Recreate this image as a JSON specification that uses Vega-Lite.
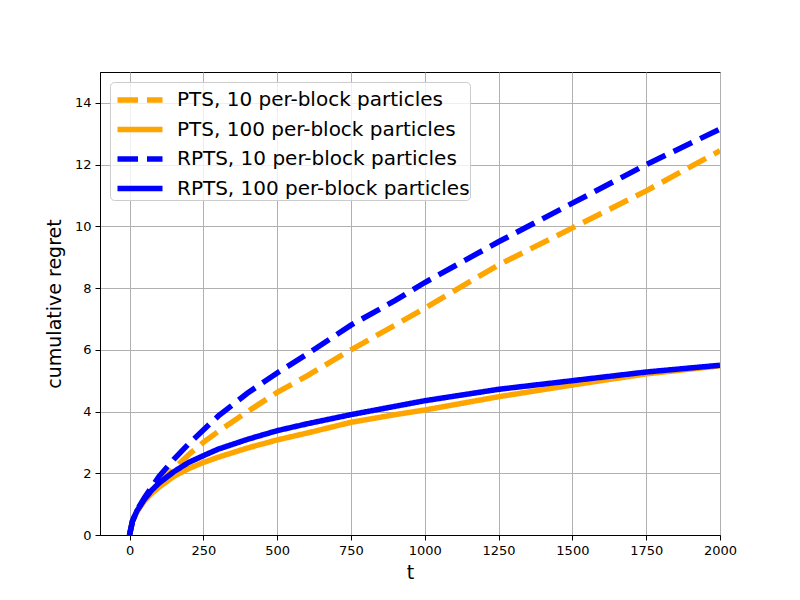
{
  "$schema": "https://vega.github.io/schema/vega-lite/v6.json",
  "width": 620,
  "height": 463,
  "autosize": "none",
  "padding": {"left": 100, "top": 72, "right": 80, "bottom": 65},
  "background": "white",
  "config": {
    "font": "DejaVu Sans",
    "view": {"stroke": "black", "strokeWidth": 1}
  },
  "datasets": {
    "curves": [
      {"t": 0, "r": 0, "s": "PTS, 10 per-block particles"},
      {"t": 10, "r": 0.45, "s": "PTS, 10 per-block particles"},
      {"t": 25, "r": 0.78, "s": "PTS, 10 per-block particles"},
      {"t": 50, "r": 1.15, "s": "PTS, 10 per-block particles"},
      {"t": 75, "r": 1.4, "s": "PTS, 10 per-block particles"},
      {"t": 100, "r": 1.65, "s": "PTS, 10 per-block particles"},
      {"t": 150, "r": 2.15, "s": "PTS, 10 per-block particles"},
      {"t": 200, "r": 2.6, "s": "PTS, 10 per-block particles"},
      {"t": 250, "r": 3.0, "s": "PTS, 10 per-block particles"},
      {"t": 300, "r": 3.35, "s": "PTS, 10 per-block particles"},
      {"t": 400, "r": 4.0, "s": "PTS, 10 per-block particles"},
      {"t": 500, "r": 4.62, "s": "PTS, 10 per-block particles"},
      {"t": 600, "r": 5.15, "s": "PTS, 10 per-block particles"},
      {"t": 750, "r": 6.0, "s": "PTS, 10 per-block particles"},
      {"t": 900, "r": 6.8, "s": "PTS, 10 per-block particles"},
      {"t": 1000, "r": 7.35, "s": "PTS, 10 per-block particles"},
      {"t": 1250, "r": 8.75, "s": "PTS, 10 per-block particles"},
      {"t": 1500, "r": 9.95, "s": "PTS, 10 per-block particles"},
      {"t": 1750, "r": 11.15, "s": "PTS, 10 per-block particles"},
      {"t": 2000, "r": 12.45, "s": "PTS, 10 per-block particles"},

      {"t": 0, "r": 0, "s": "PTS, 100 per-block particles"},
      {"t": 10, "r": 0.45, "s": "PTS, 100 per-block particles"},
      {"t": 25, "r": 0.75, "s": "PTS, 100 per-block particles"},
      {"t": 50, "r": 1.1, "s": "PTS, 100 per-block particles"},
      {"t": 75, "r": 1.35, "s": "PTS, 100 per-block particles"},
      {"t": 100, "r": 1.55, "s": "PTS, 100 per-block particles"},
      {"t": 150, "r": 1.9, "s": "PTS, 100 per-block particles"},
      {"t": 200, "r": 2.15, "s": "PTS, 100 per-block particles"},
      {"t": 250, "r": 2.35, "s": "PTS, 100 per-block particles"},
      {"t": 300, "r": 2.52, "s": "PTS, 100 per-block particles"},
      {"t": 400, "r": 2.82, "s": "PTS, 100 per-block particles"},
      {"t": 500, "r": 3.08, "s": "PTS, 100 per-block particles"},
      {"t": 600, "r": 3.3, "s": "PTS, 100 per-block particles"},
      {"t": 750, "r": 3.65, "s": "PTS, 100 per-block particles"},
      {"t": 900, "r": 3.9, "s": "PTS, 100 per-block particles"},
      {"t": 1000, "r": 4.05, "s": "PTS, 100 per-block particles"},
      {"t": 1250, "r": 4.48, "s": "PTS, 100 per-block particles"},
      {"t": 1500, "r": 4.86, "s": "PTS, 100 per-block particles"},
      {"t": 1750, "r": 5.22, "s": "PTS, 100 per-block particles"},
      {"t": 2000, "r": 5.48, "s": "PTS, 100 per-block particles"},

      {"t": 0, "r": 0, "s": "RPTS, 10 per-block particles"},
      {"t": 10, "r": 0.45, "s": "RPTS, 10 per-block particles"},
      {"t": 25, "r": 0.8, "s": "RPTS, 10 per-block particles"},
      {"t": 50, "r": 1.2, "s": "RPTS, 10 per-block particles"},
      {"t": 75, "r": 1.55, "s": "RPTS, 10 per-block particles"},
      {"t": 100, "r": 1.9, "s": "RPTS, 10 per-block particles"},
      {"t": 150, "r": 2.45, "s": "RPTS, 10 per-block particles"},
      {"t": 200, "r": 2.95, "s": "RPTS, 10 per-block particles"},
      {"t": 250, "r": 3.4, "s": "RPTS, 10 per-block particles"},
      {"t": 300, "r": 3.85, "s": "RPTS, 10 per-block particles"},
      {"t": 400, "r": 4.6, "s": "RPTS, 10 per-block particles"},
      {"t": 500, "r": 5.25, "s": "RPTS, 10 per-block particles"},
      {"t": 600, "r": 5.85, "s": "RPTS, 10 per-block particles"},
      {"t": 750, "r": 6.8, "s": "RPTS, 10 per-block particles"},
      {"t": 900, "r": 7.6, "s": "RPTS, 10 per-block particles"},
      {"t": 1000, "r": 8.18, "s": "RPTS, 10 per-block particles"},
      {"t": 1250, "r": 9.5, "s": "RPTS, 10 per-block particles"},
      {"t": 1500, "r": 10.75, "s": "RPTS, 10 per-block particles"},
      {"t": 1750, "r": 12.0, "s": "RPTS, 10 per-block particles"},
      {"t": 2000, "r": 13.15, "s": "RPTS, 10 per-block particles"},

      {"t": 0, "r": 0, "s": "RPTS, 100 per-block particles"},
      {"t": 10, "r": 0.45, "s": "RPTS, 100 per-block particles"},
      {"t": 25, "r": 0.78, "s": "RPTS, 100 per-block particles"},
      {"t": 50, "r": 1.15, "s": "RPTS, 100 per-block particles"},
      {"t": 75, "r": 1.45, "s": "RPTS, 100 per-block particles"},
      {"t": 100, "r": 1.68, "s": "RPTS, 100 per-block particles"},
      {"t": 150, "r": 2.05, "s": "RPTS, 100 per-block particles"},
      {"t": 200, "r": 2.35, "s": "RPTS, 100 per-block particles"},
      {"t": 250, "r": 2.57, "s": "RPTS, 100 per-block particles"},
      {"t": 300, "r": 2.78, "s": "RPTS, 100 per-block particles"},
      {"t": 400, "r": 3.1, "s": "RPTS, 100 per-block particles"},
      {"t": 500, "r": 3.38, "s": "RPTS, 100 per-block particles"},
      {"t": 600, "r": 3.6, "s": "RPTS, 100 per-block particles"},
      {"t": 750, "r": 3.9, "s": "RPTS, 100 per-block particles"},
      {"t": 900, "r": 4.17, "s": "RPTS, 100 per-block particles"},
      {"t": 1000, "r": 4.35, "s": "RPTS, 100 per-block particles"},
      {"t": 1250, "r": 4.72, "s": "RPTS, 100 per-block particles"},
      {"t": 1500, "r": 5.0, "s": "RPTS, 100 per-block particles"},
      {"t": 1750, "r": 5.28, "s": "RPTS, 100 per-block particles"},
      {"t": 2000, "r": 5.5, "s": "RPTS, 100 per-block particles"}
    ]
  },
  "data": {"name": "curves"},
  "mark": {"type": "line", "strokeWidth": 5.5, "clip": true},
  "encoding": {
    "x": {
      "field": "t",
      "type": "quantitative",
      "scale": {"domain": [-100, 2000], "nice": false, "zero": false},
      "axis": {
        "title": "t",
        "format": "d",
        "values": [0, 250, 500, 750, 1000, 1250, 1500, 1750, 2000],
        "titleFontSize": 19,
        "titleFontWeight": "normal",
        "titleColor": "black",
        "titlePadding": 6,
        "labelFontSize": 13,
        "labelColor": "black",
        "labelPadding": 4,
        "tickColor": "black",
        "tickSize": 5,
        "domainColor": "black",
        "gridColor": "#b0b0b0",
        "gridWidth": 1,
        "labelFlush": false
      }
    },
    "y": {
      "field": "r",
      "type": "quantitative",
      "scale": {"domain": [0, 15], "nice": false},
      "axis": {
        "title": "cumulative regret",
        "format": "d",
        "values": [0, 2, 4, 6, 8, 10, 12, 14],
        "titleFontSize": 19,
        "titleFontWeight": "normal",
        "titleColor": "black",
        "titlePadding": 10,
        "labelFontSize": 13,
        "labelColor": "black",
        "labelPadding": 4,
        "tickColor": "black",
        "tickSize": 5,
        "domainColor": "black",
        "gridColor": "#b0b0b0",
        "gridWidth": 1,
        "labelFlush": false
      }
    },
    "color": {
      "field": "s",
      "type": "nominal",
      "scale": {
        "domain": ["PTS, 10 per-block particles", "PTS, 100 per-block particles", "RPTS, 10 per-block particles", "RPTS, 100 per-block particles"],
        "range": ["#FFA500", "#FFA500", "#0000FF", "#0000FF"]
      },
      "legend": {
        "title": null,
        "orient": "top-left",
        "offset": 10,
        "symbolType": "M-1.5,0H1.5",
        "symbolStrokeWidth": 5.5,
        "symbolSize": 900,
        "labelFontSize": 20,
        "labelOffset": 19,
        "symbolOffset": 12,
        "labelColor": "black",
        "labelLimit": 400,
        "rowPadding": 0.5,
        "padding": 0,
        "strokeColor": "#cccccc",
        "fillColor": "rgba(255,255,255,0.8)",
        "cornerRadius": 4
      }
    },
    "strokeDash": {
      "field": "s",
      "type": "nominal",
      "scale": {
        "domain": ["PTS, 10 per-block particles", "PTS, 100 per-block particles", "RPTS, 10 per-block particles", "RPTS, 100 per-block particles"],
        "range": [[20.5, 9], [1, 0], [20.5, 9], [1, 0]]
      }
    }
  }
}
